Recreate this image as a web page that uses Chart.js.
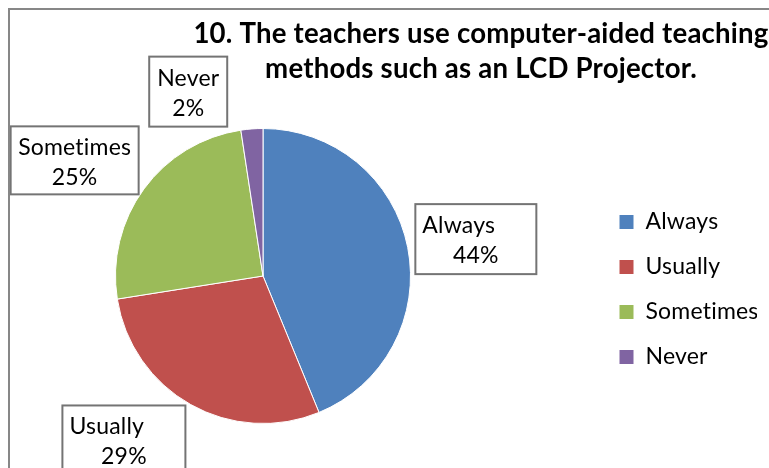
<!DOCTYPE html>
<html>
<head>
<meta charset="utf-8">
<script src="https://cdn.jsdelivr.net/npm/chart.js@4/dist/chart.umd.min.js"></script>
<style>
  html, body { margin: 0; padding: 0; background: #fff; overflow: hidden; width: 769px; height: 468px; }
  #frame { position: absolute; left: 8px; top: 8px; width: 1000px; height: 600px; border: 2px solid #878787; overflow: hidden; background: #fff; }
  #chart { position: absolute; left: -81px; top: 0px; }
</style>
</head>
<body>
<div id="frame"><canvas id="chart" width="900" height="500"></canvas></div>
<script>
// ---- data ----
const titleLines = ["10. The teachers use computer-aided teaching", "methods such as an LCD Projector."];
const categories = ["Always", "Usually", "Sometimes", "Never"];
const shares = [43.8, 28.7, 25.1, 2.4];
const colors = ["#4F81BD", "#C0504D", "#9BBB59", "#8064A2"];

// ---- layout of the data-label boxes (relative to pie centre, in radius units) ----
const labelBoxes = [
  { dx: 1.443, dy: -0.25, w: 121, h: 70, firstLeft: true },
  { dx: -0.943, dy: 1.115, w: 123, h: 70, firstLeft: true },
  { dx: -1.277, dy: -0.784, w: 128, h: 68, firstLeft: false },
  { dx: -0.507, dy: -1.25, w: 78, h: 70, firstLeft: false }
];

Chart.defaults.font.family = "Lato";
Chart.defaults.color = "#000";

const spacingPlugin = {
  id: "noLigatures",
  beforeDraw(chart) {
    try { chart.ctx.letterSpacing = "0.2px"; } catch (e) {}
  }
};

const titlePlugin = {
  id: "titleText",
  afterDraw(chart) {
    const ctx = chart.ctx;
    ctx.save();
    ctx.font = "bold 27.6px Lato";
    ctx.fillStyle = "#000";
    ctx.textAlign = "center";
    ctx.textBaseline = "alphabetic";
    const cx = 552;
    const base = [33, 68];
    titleLines.forEach((t, i) => ctx.fillText(t, cx, base[i]));
    ctx.restore();
  }
};

const labelPlugin = {
  id: "boxLabels",
  afterDatasetsDraw(chart) {
    const ctx = chart.ctx;
    const meta = chart.getDatasetMeta(0);
    const data = chart.data.datasets[0].data;
    const total = data.reduce((a, b) => a + b, 0);
    ctx.save();
    ctx.font = "23px Lato";
    ctx.fillStyle = "#000";
    meta.data.forEach((arc, i) => {
      const p = arc.getProps(["x", "y", "outerRadius"], true);
      const L = labelBoxes[i];
      const cx = p.x + L.dx * p.outerRadius;
      const cy = p.y + L.dy * p.outerRadius;
      const left = cx - L.w / 2, top = cy - L.h / 2;
      ctx.fillStyle = "#fff";
      ctx.fillRect(left, top, L.w, L.h);
      ctx.strokeStyle = "#747474";
      ctx.lineWidth = 2;
      ctx.strokeRect(left, top, L.w, L.h);
      ctx.fillStyle = "#000";
      ctx.textBaseline = "alphabetic";
      const pct = Math.round(data[i] / total * 100) + "%";
      if (L.firstLeft) {
        ctx.textAlign = "left";
        ctx.fillText(chart.data.labels[i], left + 7, top + 29);
      } else {
        ctx.textAlign = "center";
        ctx.fillText(chart.data.labels[i], cx, top + 29);
      }
      ctx.textAlign = "center";
      ctx.fillText(pct, cx, top + 59);
    });
    ctx.restore();
  }
};

new Chart(document.getElementById("chart"), {
  type: "pie",
  data: {
    labels: categories,
    datasets: [{
      data: shares,
      backgroundColor: colors,
      borderColor: "#ffffff",
      borderWidth: 1
    }]
  },
  options: {
    responsive: false,
    animation: false,
    devicePixelRatio: 1,
    layout: { padding: { left: 0, right: 72, top: 118, bottom: 86 } },
    plugins: {
      title: { display: false },
      tooltip: { enabled: false },
      legend: {
        position: "right",
        maxWidth: 160,
        title: { display: true, text: "", padding: 0, font: { size: 10, lineHeight: "27px" } },
        labels: {
          boxWidth: 15,
          boxHeight: 15,
          padding: 22,
          color: "#000",
          font: { size: 23, family: "Lato" }
        }
      }
    }
  },
  plugins: [spacingPlugin, labelPlugin, titlePlugin]
});
</script>
</body>
</html>
